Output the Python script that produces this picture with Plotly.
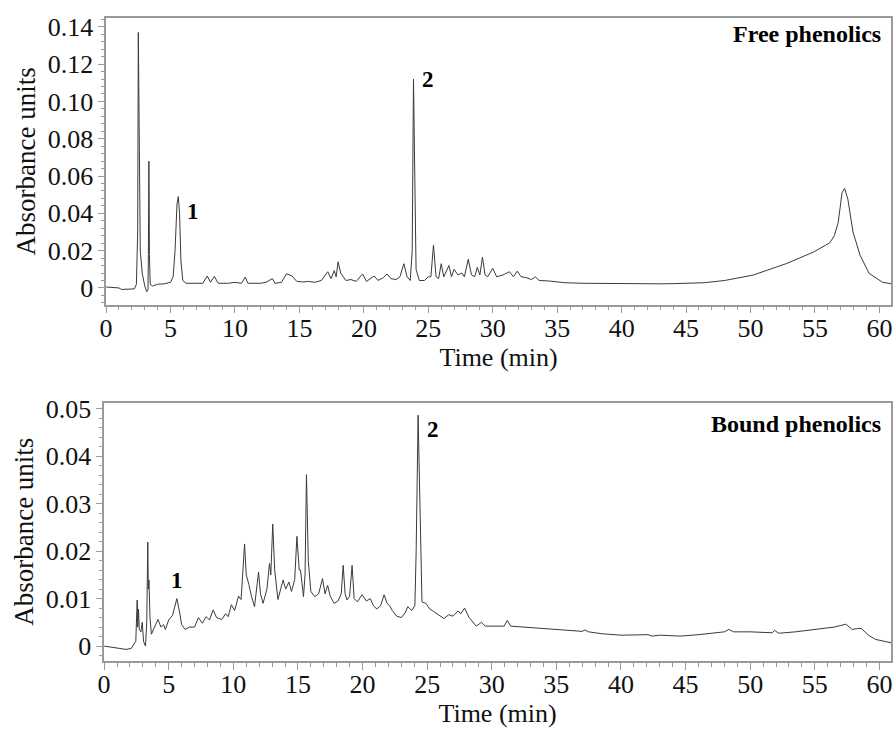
import plotly.graph_objects as go

# ---------------- data ----------------
free_t = [0.0, 0.5, 1.0, 1.2, 2.0, 2.2, 2.35, 2.45, 2.5, 2.58, 2.65, 2.8, 3.0, 3.15, 3.25, 3.28, 3.32, 3.36,
          3.42, 3.6, 4.0, 4.5, 5.0, 5.2, 5.35, 5.5, 5.6, 5.7, 5.8, 5.95, 6.2, 7.0, 7.5, 7.85, 8.1, 8.4, 8.7,
          9.5, 10.0, 10.5, 10.8, 11.0, 12.0, 12.4, 12.9, 13.1, 13.6, 14.0, 14.4, 14.8, 15.3, 15.7, 16.2,
          16.7, 17.2, 17.45, 17.7, 17.85, 18.0, 18.2, 18.6, 19.0, 19.4, 19.9, 20.2, 20.8, 21.1, 21.5, 21.8,
          22.1, 22.5, 22.8, 23.1, 23.35, 23.6, 23.75, 23.85, 23.95, 24.05, 24.3, 24.7, 25.0, 25.2, 25.4,
          25.6, 25.8, 26.0, 26.2, 26.6, 26.8, 27.0, 27.3, 27.6, 27.8, 28.1, 28.35, 28.6, 28.8, 29.0, 29.2,
          29.4, 29.6, 30.0, 30.3, 30.8, 31.3, 31.6, 31.9, 32.2, 32.6, 33.0, 33.3, 33.6, 34.4, 35.6, 37.0,
          38.0, 40.0, 43.0, 44.0, 46.4, 48.0, 50.2, 52.8, 54.9, 56.15, 56.5, 56.8, 57.1, 57.3, 57.55,
          57.95, 58.5, 59.2, 60.25, 60.9]
free_a = [0.0005, 0.0004, 0.0, -0.0008, -0.0008, -0.0005, 0.002, 0.03, 0.137, 0.06, 0.02, 0.008, 0.001,
          -0.002, -0.001, 0.018, 0.068, 0.018, 0.002, 0.001, 0.002, 0.0022, 0.003, 0.006, 0.02, 0.045,
          0.049, 0.04, 0.015, 0.004, 0.0025, 0.0025, 0.0025, 0.0064, 0.003, 0.0062, 0.0025, 0.0025, 0.003,
          0.0025, 0.0058, 0.0025, 0.0025, 0.003, 0.005, 0.0025, 0.003, 0.0076, 0.0065, 0.0035, 0.0032,
          0.0035, 0.003, 0.004, 0.0087, 0.005, 0.0093, 0.006, 0.014, 0.008, 0.004, 0.0045, 0.0035, 0.0075,
          0.0035, 0.0064, 0.004, 0.0055, 0.0075, 0.005, 0.0045, 0.006, 0.013, 0.006, 0.004, 0.02, 0.112,
          0.06, 0.01, 0.004, 0.004, 0.006, 0.006, 0.023, 0.006, 0.005, 0.013, 0.006, 0.012, 0.006, 0.01,
          0.007, 0.008, 0.006, 0.0154, 0.007, 0.006, 0.011, 0.007, 0.0165, 0.007, 0.006, 0.0105, 0.006,
          0.007, 0.0087, 0.006, 0.009, 0.006, 0.0055, 0.0045, 0.006, 0.004, 0.0037, 0.0028, 0.0025,
          0.0024, 0.0022, 0.0022, 0.0023, 0.0028, 0.004, 0.0069, 0.0131, 0.0193, 0.0242, 0.028, 0.035,
          0.051, 0.0534, 0.0476, 0.030, 0.0175, 0.0078, 0.003, 0.0023]

bound_t = [0.0, 0.8, 1.7, 2.1, 2.3, 2.45, 2.56, 2.6, 2.66, 2.72, 2.85, 2.95, 3.05, 3.2, 3.3, 3.38, 3.42,
           3.47, 3.55, 3.66, 3.9, 4.17, 4.4, 4.6, 4.74, 5.0, 5.3, 5.63, 5.85, 6.0, 6.27, 6.6, 7.0, 7.3,
           7.6, 7.9, 8.15, 8.44, 8.7, 9.1, 9.4, 9.6, 9.85, 10.1, 10.4, 10.6, 10.87, 11.0, 11.2, 11.4,
           11.64, 11.95, 12.1, 12.3, 12.6, 12.8, 12.9, 13.05, 13.2, 13.45, 13.85, 14.05, 14.3, 14.5,
           14.75, 14.92, 15.1, 15.2, 15.43, 15.55, 15.66, 15.8, 16.0, 16.3, 16.6, 16.9, 17.1, 17.3, 17.5,
           17.8, 18.1, 18.35, 18.5, 18.65, 18.8, 19.0, 19.19, 19.35, 19.6, 19.96, 20.3, 20.6, 20.85,
           21.1, 21.4, 21.67, 21.9, 22.1, 22.3, 22.64, 23.0, 23.3, 23.5, 23.8, 24.05, 24.15, 24.3, 24.45,
           24.6, 24.9, 25.2, 25.5, 26.0, 26.3, 26.67, 27.0, 27.4, 27.6, 27.9, 28.25, 28.8, 29.2, 29.5,
           30.06, 30.96, 31.2, 31.46, 32.5, 33.4, 34.5, 35.9, 37.0, 37.2, 37.5, 38.5, 40.0, 42.1, 42.4,
           43.0, 44.6, 46.0, 48.0, 48.35, 48.7, 50.0, 51.7, 51.9, 52.2, 53.5, 54.9, 56.5, 57.4, 57.9,
           58.3, 58.6, 59.2, 59.7, 60.4, 60.9]
bound_a = [0.0, -0.0003, -0.0007, -0.0005, 0.0003, 0.001, 0.0097, 0.004, 0.0078, 0.0035, 0.003, 0.005,
           0.001, 0.0, 0.005, 0.0219, 0.012, 0.0139, 0.006, 0.0025, 0.004, 0.0056, 0.004, 0.0045, 0.0035,
           0.0055, 0.0065, 0.01, 0.007, 0.0045, 0.0035, 0.004, 0.004, 0.006, 0.0048, 0.0062, 0.0055,
           0.0076, 0.006, 0.0056, 0.0068, 0.0062, 0.0087, 0.0075, 0.0105, 0.0098, 0.0215, 0.015, 0.013,
           0.0105, 0.0083, 0.0156, 0.011, 0.009, 0.012, 0.0174, 0.015, 0.0257, 0.016, 0.0098, 0.0139,
           0.012, 0.0135, 0.0115, 0.014, 0.0231, 0.016, 0.016, 0.0104, 0.015, 0.0361, 0.018, 0.0115,
           0.0104, 0.011, 0.0142, 0.011, 0.0128, 0.0105, 0.009, 0.0095, 0.011, 0.017, 0.011, 0.0097,
           0.0105, 0.017, 0.01, 0.0093, 0.0108, 0.0095, 0.010, 0.0085, 0.0078, 0.0085, 0.0108, 0.009,
           0.0085, 0.0075, 0.0063, 0.006, 0.007, 0.0083, 0.0075, 0.0085, 0.02, 0.0486, 0.025, 0.0093,
           0.009, 0.0078, 0.0073, 0.0063, 0.0058, 0.0066, 0.0063, 0.0074, 0.0068, 0.008, 0.006, 0.0042,
           0.005, 0.0042, 0.0042, 0.0042, 0.0054, 0.0042, 0.004, 0.0038, 0.0036, 0.0033, 0.0031, 0.0034,
           0.003, 0.0026, 0.0023, 0.0024, 0.0021, 0.0023, 0.0021, 0.0024, 0.0030, 0.0035, 0.003, 0.003,
           0.0028, 0.0033, 0.0027, 0.003, 0.0035, 0.004, 0.0046, 0.0035, 0.0037, 0.0037, 0.0022, 0.0014,
           0.001, 0.0007]

x_ticks = [0, 5, 10, 15, 20, 25, 30, 35, 40, 45, 50, 55, 60]
free_yticks = [0, 0.02, 0.04, 0.06, 0.08, 0.10, 0.12, 0.14]
free_ylabels = ["0", "0.02", "0.04", "0.06", "0.08", "0.10", "0.12", "0.14"]
bound_yticks = [0, 0.01, 0.02, 0.03, 0.04, 0.05]
bound_ylabels = ["0", "0.01", "0.02", "0.03", "0.04", "0.05"]

panel_titles = ["Free phenolics", "Bound phenolics"]
free_peaks = [("1", 5.6, 0.049), ("2", 23.85, 0.112)]
bound_peaks = [("1", 5.63, 0.01), ("2", 24.3, 0.0486)]

# ---------------- figure ----------------
FONT = "Liberation Serif, Times New Roman, serif"
LINE = "#3a3a3a"
AXC = "#9a9a9a"
W, H = 894, 734

fig = go.Figure()
fig.add_trace(go.Scatter(x=free_t, y=free_a, mode="lines", line=dict(color=LINE, width=1),
                         xaxis="x", yaxis="y", showlegend=False))
fig.add_trace(go.Scatter(x=bound_t, y=bound_a, mode="lines", line=dict(color=LINE, width=1),
                         xaxis="x2", yaxis="y2", showlegend=False))


def xax(domain, anchor):
    return dict(domain=domain, anchor=anchor, range=[0, 60.9], tickvals=x_ticks,
                showgrid=False, zeroline=False, showline=True, mirror=True, linecolor=AXC, linewidth=1.5,
                ticks="outside", ticklen=7, tickcolor=AXC, tickwidth=1, ticklabelstandoff=-8,
                minor=dict(dtick=1, ticks="outside", ticklen=4, tickcolor=AXC, tickwidth=1),
                tickfont=dict(family=FONT, size=26, color="#111"),
                title=dict(text="Time (min)", font=dict(family=FONT, size=26, color="#111"), standoff=0))


def yax(domain, anchor, rng, tv, tt, mdt):
    return dict(domain=domain, anchor=anchor, range=rng, tickvals=tv, ticktext=tt,
                showgrid=False, zeroline=False, showline=True, mirror=True, linecolor=AXC, linewidth=1.5,
                ticks="outside", ticklen=6, tickcolor=AXC, tickwidth=1,
                minor=dict(dtick=mdt, tick0=0, ticks="outside", ticklen=3, tickcolor=AXC, tickwidth=1),
                tickfont=dict(family=FONT, size=26, color="#111"),
                title=dict(text="Absorbance units", font=dict(family=FONT, size=27, color="#111"), standoff=4))


fig.update_layout(
    width=W, height=H, margin=dict(l=0, r=0, t=0, b=0),
    paper_bgcolor="white", plot_bgcolor="white",
    xaxis=xax([100 / W, 892 / W], "y"),
    yaxis=yax([(H - 300) / H, (H - 10) / H], "x", [-0.009, 0.1448], free_yticks, free_ylabels, 0.004),
    xaxis2=xax([98 / W, 892 / W], "y2"),
    yaxis2=yax([(H - 660) / H, (H - 399) / H], "x2", [-0.0031, 0.05125], bound_yticks, bound_ylabels, 0.002),
)

ann = []
ann.append(dict(text="<b>" + panel_titles[0] + "</b>", xref="x domain", yref="y domain", x=0.99, y=0.995,
                xanchor="right", yanchor="top", showarrow=False, font=dict(family=FONT, size=24, color="#000")))
ann.append(dict(text="<b>" + panel_titles[1] + "</b>", xref="x2 domain", yref="y2 domain", x=0.99, y=0.975,
                xanchor="right", yanchor="top", showarrow=False, font=dict(family=FONT, size=24, color="#000")))
for lab, t, a in free_peaks:
    ann.append(dict(text="<b>" + lab + "</b>", xref="x", yref="y", x=t + 0.5, y=a,
                    xanchor="left", yanchor="top" if lab == "1" else "middle", showarrow=False,
                    font=dict(family=FONT, size=23, color="#000")))
for lab, t, a in bound_peaks:
    ann.append(dict(text="<b>" + lab + "</b>", xref="x2", yref="y2", x=t + 0.5 if lab == "2" else t,
                    y=a + (0 if lab == "2" else 0.0008), xanchor="left" if lab == "2" else "center",
                    yanchor="top" if lab == "2" else "bottom", showarrow=False,
                    font=dict(family=FONT, size=23, color="#000")))
fig.update_layout(annotations=ann)

fig.write_html("out.html", config={"responsive": False, "displayModeBar": False},
               post_script="document.body.style.margin='0';document.body.style.overflow='hidden';")
